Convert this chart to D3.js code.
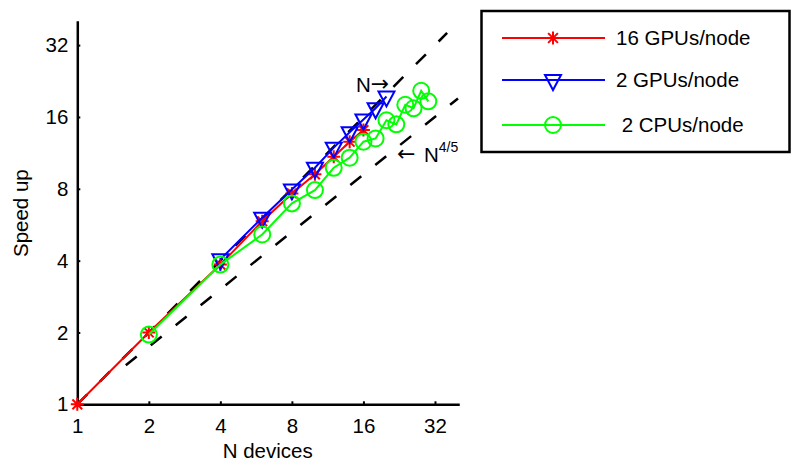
<!DOCTYPE html>
<html>
<head>
  <meta charset="utf-8">
  <script src="https://d3js.org/d3.v7.min.js"></script>
  <style>
    body { margin: 0; background: #fff; }
    svg text { font-family: "Liberation Sans", Arial, sans-serif; fill: #000; }
    .axis path { stroke: #000; stroke-width: 2.5px; }
    .axis line { stroke: #000; stroke-width: 2px; }
    .axis text { font-size: 20.5px; }
    .arrow { font-family: "DejaVu Sans", sans-serif; font-size: 22px; }
  </style>
</head>
<body>
<div id="plot"></div>
<script>
// speed up vs number of devices (log2 / log2)
var xTicks = [1, 2, 4, 8, 16, 32];
var yTicks = [1, 2, 4, 8, 16, 32];

var nGpu16 = [1, 2, 4, 6, 8, 10, 12, 14, 16];
var sGpu16 = [1, 2.0, 3.85, 5.85, 7.65, 9.2, 10.9, 12.6, 14.1];

var nGpu2 = [4, 6, 8, 10, 12, 14, 16, 18, 20];
var sGpu2 = [4.05, 6.05, 7.95, 9.8, 11.9, 13.8, 15.6, 17.4, 19.5];

var nCpu2 = [2, 4, 6, 8, 10, 12, 14, 16, 18, 20, 22, 24, 26, 28, 30];
var sCpu2 = [1.96, 3.85, 5.15, 6.95, 7.9, 9.8, 10.8, 12.6, 13.0, 15.5, 14.9, 18.0, 17.4, 20.6, 18.6];

var legendNames = ["16 GPUs/node", "2 GPUs/node", " 2 CPUs/node"];
var colors = ["#ff0000", "#0000ff", "#00ff00"];

var width = 794, height = 464;

var x = d3.scaleLog().base(2).domain([1, 40]).range([77.3, 458]);
var y = d3.scaleLog().base(2).domain([1, 40]).range([404.3, 22]);

var svg = d3.select("#plot").append("svg")
  .attr("width", width)
  .attr("height", height);

// reference lines N and N^(4/5)
var refN = [1, 36];
var refN45 = [1.6, 40];
var line = d3.line().x(function(d) { return x(d[0]); }).y(function(d) { return y(d[1]); });

svg.append("path")
  .attr("d", line(refN.map(function(n) { return [n, n]; })))
  .attr("fill", "none").attr("stroke", "#000").attr("stroke-width", 2.5)
  .attr("stroke-dasharray", "14,18");

svg.append("path")
  .attr("d", line(refN45.map(function(n) { return [n, Math.pow(n, 0.8)]; })))
  .attr("fill", "none").attr("stroke", "#000").attr("stroke-width", 2.5)
  .attr("stroke-dasharray", "14,18");

// axes
svg.append("g")
  .attr("class", "axis")
  .attr("transform", "translate(0," + y(1) + ")")
  .call(d3.axisBottom(x).tickValues(xTicks).tickFormat(d3.format("d"))
    .tickSizeInner(-3).tickSizeOuter(0).tickPadding(14.5));

svg.append("g")
  .attr("class", "axis")
  .attr("transform", "translate(" + x(1) + ",0)")
  .call(d3.axisLeft(y).tickValues(yTicks).tickFormat(d3.format("d"))
    .tickSizeInner(-3).tickSizeOuter(0).tickPadding(9));

svg.selectAll(".axis .domain").attr("stroke-linecap", "square");

svg.append("text")
  .attr("x", (x.range()[0] + x.range()[1]) / 2)
  .attr("y", 458)
  .attr("text-anchor", "middle")
  .style("font-size", "20.5px")
  .text("N devices");

svg.append("text")
  .attr("transform", "translate(28," + ((y.range()[0] + y.range()[1]) / 2) + ") rotate(-90)")
  .attr("text-anchor", "middle")
  .style("font-size", "20.5px")
  .text("Speed up");

// markers
function star(s) {
  var k = s * 0.75;
  return "M" + (-s) + ",0L" + s + ",0M0," + (-s) + "L0," + s +
    "M" + (-k) + "," + (-k) + "L" + k + "," + k + "M" + (-k) + "," + k + "L" + k + "," + (-k);
}
function tri() { return "M-8,-5L8,-5L0,10Z"; }

function drawSeries(ns, ss, color, marker) {
  var pts = ns.map(function(n, i) { return [n, ss[i]]; });
  svg.append("path")
    .attr("d", line(pts))
    .attr("fill", "none").attr("stroke", color).attr("stroke-width", 2);
  svg.append("g").selectAll("path")
    .data(pts)
    .enter().append("path")
    .attr("transform", function(d) { return "translate(" + x(d[0]) + "," + y(d[1]) + ")"; })
    .attr("d", marker)
    .attr("fill", "none").attr("stroke", color).attr("stroke-width", 2);
}
var circ = d3.symbol().type(d3.symbolCircle).size(Math.PI * 64);

drawSeries(nGpu16, sGpu16, colors[0], star(6.5));
drawSeries(nGpu2, sGpu2, colors[1], tri());
drawSeries(nCpu2, sCpu2, colors[2], circ());

// annotations
var labN = svg.append("text").attr("x", 356).attr("y", 92).style("font-size", "20.5px");
labN.append("tspan").text("N");
labN.append("tspan").attr("class", "arrow").attr("dy", -1).text("\u2192");

var lab = svg.append("text").attr("y", 162).style("font-size", "20.5px");
lab.append("tspan").attr("class", "arrow").attr("x", 397).attr("dy", -1).text("\u2190");
lab.append("tspan").attr("x", 424).attr("dy", 1).text("N");
lab.append("tspan").attr("dy", -10).style("font-size", "14px").text("4/5");

// legend
var lg = svg.append("g");
lg.append("rect")
  .attr("x", 481.5).attr("y", 11).attr("width", 308).attr("height", 141)
  .attr("fill", "#fff").attr("stroke", "#000").attr("stroke-width", 2.5);

var markers = [star(6.5), tri(), circ()];
var rowY = [38, 80, 125];
legendNames.forEach(function(name, i) {
  lg.append("line")
    .attr("x1", 502).attr("x2", 605).attr("y1", rowY[i]).attr("y2", rowY[i])
    .attr("stroke", colors[i]).attr("stroke-width", 2);
  lg.append("path")
    .attr("transform", "translate(553," + rowY[i] + ")")
    .attr("d", markers[i])
    .attr("fill", "none").attr("stroke", colors[i]).attr("stroke-width", 2);
  lg.append("text")
    .attr("x", 616).attr("y", rowY[i] + 7)
    .style("font-size", "20.5px")
    .style("white-space", "pre")
    .text(name);
});
</script>
</body>
</html>
